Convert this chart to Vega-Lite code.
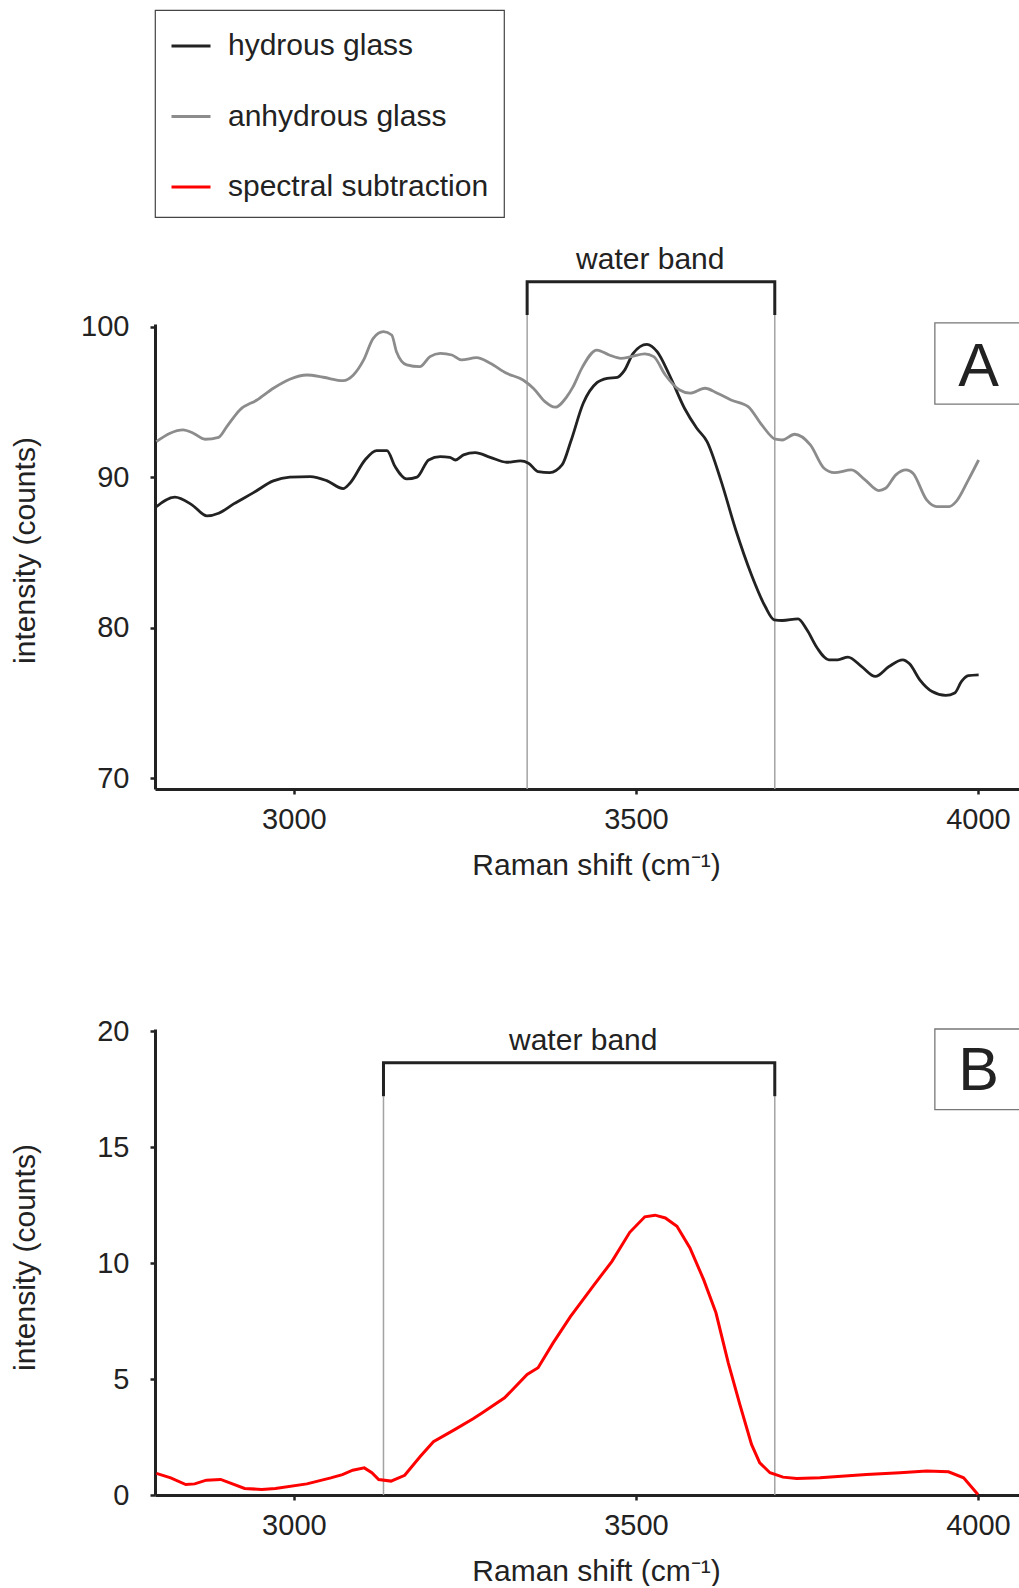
{
  "$schema": "https://vega.github.io/schema/vega-lite/v6.json",
  "background": "white",
  "padding": {"left": 10, "top": 9, "right": 0, "bottom": 0},
  "bounds": "flush",
  "spacing": 240,
  "config": {
    "font": "Liberation Sans",
    "view": {"stroke": null},
    "axis": {
      "domainColor": "#222222", "domainWidth": 3,
      "tickColor": "#222222", "tickWidth": 2.5, "tickSize": 5,
      "labelFont": "Liberation Sans", "labelFontSize": 29, "labelColor": "#222222",
      "titleFont": "Liberation Sans", "titleFontSize": 30, "titleFontWeight": "normal", "titleColor": "#222222",
      "grid": false
    },
    "legend": {
      "orient": "none", "legendX": 0, "legendY": -314,
      "symbolType": "stroke", "symbolSize": 1521, "symbolStrokeWidth": 3,
      "labelFont": "Liberation Sans", "labelFontSize": 30, "labelColor": "#222222",
      "labelOffset": 16, "rowPadding": 34.5, "padding": 15, "labelLimit": 500,
      "strokeColor": "#444444", "strokeWidth": 1.2, "fillColor": "white"
    }
  },
  "datasets": {
    "glass": [
      {"series": "hydrous glass", "shift": 2799, "intensity": 88.04},
      {"series": "hydrous glass", "shift": 2826, "intensity": 88.67},
      {"series": "hydrous glass", "shift": 2851, "intensity": 88.16},
      {"series": "hydrous glass", "shift": 2873, "intensity": 87.42},
      {"series": "hydrous glass", "shift": 2890, "intensity": 87.6},
      {"series": "hydrous glass", "shift": 2912, "intensity": 88.22},
      {"series": "hydrous glass", "shift": 2941, "intensity": 88.97},
      {"series": "hydrous glass", "shift": 2970, "intensity": 89.75},
      {"series": "hydrous glass", "shift": 2994, "intensity": 90.0},
      {"series": "hydrous glass", "shift": 3024, "intensity": 90.04},
      {"series": "hydrous glass", "shift": 3048, "intensity": 89.77},
      {"series": "hydrous glass", "shift": 3072, "intensity": 89.24},
      {"series": "hydrous glass", "shift": 3082, "intensity": 89.6},
      {"series": "hydrous glass", "shift": 3104, "intensity": 91.14},
      {"series": "hydrous glass", "shift": 3121, "intensity": 91.76},
      {"series": "hydrous glass", "shift": 3136, "intensity": 91.76},
      {"series": "hydrous glass", "shift": 3148, "intensity": 90.7},
      {"series": "hydrous glass", "shift": 3165, "intensity": 89.88},
      {"series": "hydrous glass", "shift": 3180, "intensity": 90.0},
      {"series": "hydrous glass", "shift": 3197, "intensity": 91.14},
      {"series": "hydrous glass", "shift": 3214, "intensity": 91.36},
      {"series": "hydrous glass", "shift": 3228, "intensity": 91.32},
      {"series": "hydrous glass", "shift": 3236, "intensity": 91.14},
      {"series": "hydrous glass", "shift": 3248, "intensity": 91.48},
      {"series": "hydrous glass", "shift": 3265, "intensity": 91.63},
      {"series": "hydrous glass", "shift": 3287, "intensity": 91.32},
      {"series": "hydrous glass", "shift": 3311, "intensity": 90.99},
      {"series": "hydrous glass", "shift": 3331, "intensity": 91.08},
      {"series": "hydrous glass", "shift": 3343, "intensity": 90.93},
      {"series": "hydrous glass", "shift": 3357, "intensity": 90.37},
      {"series": "hydrous glass", "shift": 3374, "intensity": 90.3},
      {"series": "hydrous glass", "shift": 3392, "intensity": 90.81},
      {"series": "hydrous glass", "shift": 3405, "intensity": 92.4},
      {"series": "hydrous glass", "shift": 3423, "intensity": 94.91},
      {"series": "hydrous glass", "shift": 3443, "intensity": 96.28},
      {"series": "hydrous glass", "shift": 3458, "intensity": 96.57},
      {"series": "hydrous glass", "shift": 3473, "intensity": 96.64},
      {"series": "hydrous glass", "shift": 3483, "intensity": 97.08},
      {"series": "hydrous glass", "shift": 3496, "intensity": 98.23},
      {"series": "hydrous glass", "shift": 3516, "intensity": 98.83},
      {"series": "hydrous glass", "shift": 3531, "intensity": 98.34},
      {"series": "hydrous glass", "shift": 3549, "intensity": 96.79},
      {"series": "hydrous glass", "shift": 3571, "intensity": 94.58},
      {"series": "hydrous glass", "shift": 3589, "intensity": 93.25},
      {"series": "hydrous glass", "shift": 3604, "intensity": 92.36},
      {"series": "hydrous glass", "shift": 3624, "intensity": 89.82},
      {"series": "hydrous glass", "shift": 3646, "intensity": 86.49},
      {"series": "hydrous glass", "shift": 3669, "intensity": 83.5},
      {"series": "hydrous glass", "shift": 3689, "intensity": 81.4},
      {"series": "hydrous glass", "shift": 3702, "intensity": 80.52},
      {"series": "hydrous glass", "shift": 3714, "intensity": 80.47},
      {"series": "hydrous glass", "shift": 3737, "intensity": 80.58},
      {"series": "hydrous glass", "shift": 3750, "intensity": 79.85},
      {"series": "hydrous glass", "shift": 3765, "intensity": 78.64},
      {"series": "hydrous glass", "shift": 3782, "intensity": 77.86},
      {"series": "hydrous glass", "shift": 3795, "intensity": 77.86},
      {"series": "hydrous glass", "shift": 3810, "intensity": 78.04},
      {"series": "hydrous glass", "shift": 3830, "intensity": 77.41},
      {"series": "hydrous glass", "shift": 3850, "intensity": 76.75},
      {"series": "hydrous glass", "shift": 3870, "intensity": 77.41},
      {"series": "hydrous glass", "shift": 3890, "intensity": 77.86},
      {"series": "hydrous glass", "shift": 3900, "intensity": 77.59},
      {"series": "hydrous glass", "shift": 3915, "intensity": 76.53},
      {"series": "hydrous glass", "shift": 3933, "intensity": 75.75},
      {"series": "hydrous glass", "shift": 3953, "intensity": 75.49},
      {"series": "hydrous glass", "shift": 3966, "intensity": 75.65},
      {"series": "hydrous glass", "shift": 3976, "intensity": 76.42},
      {"series": "hydrous glass", "shift": 3986, "intensity": 76.8},
      {"series": "hydrous glass", "shift": 4001, "intensity": 76.86},
      {"series": "anhydrous glass", "shift": 2799, "intensity": 92.36},
      {"series": "anhydrous glass", "shift": 2819, "intensity": 92.92},
      {"series": "anhydrous glass", "shift": 2838, "intensity": 93.14},
      {"series": "anhydrous glass", "shift": 2853, "intensity": 92.92},
      {"series": "anhydrous glass", "shift": 2870, "intensity": 92.52},
      {"series": "anhydrous glass", "shift": 2890, "intensity": 92.65},
      {"series": "anhydrous glass", "shift": 2902, "intensity": 93.36},
      {"series": "anhydrous glass", "shift": 2921, "intensity": 94.47},
      {"series": "anhydrous glass", "shift": 2946, "intensity": 95.13},
      {"series": "anhydrous glass", "shift": 2970, "intensity": 95.91},
      {"series": "anhydrous glass", "shift": 2994, "intensity": 96.51},
      {"series": "anhydrous glass", "shift": 3019, "intensity": 96.79},
      {"series": "anhydrous glass", "shift": 3043, "intensity": 96.64},
      {"series": "anhydrous glass", "shift": 3072, "intensity": 96.41},
      {"series": "anhydrous glass", "shift": 3087, "intensity": 96.79},
      {"series": "anhydrous glass", "shift": 3102, "intensity": 97.79},
      {"series": "anhydrous glass", "shift": 3116, "intensity": 99.23},
      {"series": "anhydrous glass", "shift": 3131, "intensity": 99.67},
      {"series": "anhydrous glass", "shift": 3143, "intensity": 99.45},
      {"series": "anhydrous glass", "shift": 3150, "intensity": 98.34},
      {"series": "anhydrous glass", "shift": 3165, "intensity": 97.46},
      {"series": "anhydrous glass", "shift": 3184, "intensity": 97.34},
      {"series": "anhydrous glass", "shift": 3199, "intensity": 98.01},
      {"series": "anhydrous glass", "shift": 3214, "intensity": 98.23},
      {"series": "anhydrous glass", "shift": 3231, "intensity": 98.12},
      {"series": "anhydrous glass", "shift": 3245, "intensity": 97.79},
      {"series": "anhydrous glass", "shift": 3267, "intensity": 97.94},
      {"series": "anhydrous glass", "shift": 3287, "intensity": 97.57},
      {"series": "anhydrous glass", "shift": 3311, "intensity": 96.9},
      {"series": "anhydrous glass", "shift": 3335, "intensity": 96.46},
      {"series": "anhydrous glass", "shift": 3350, "intensity": 95.91},
      {"series": "anhydrous glass", "shift": 3367, "intensity": 95.02},
      {"series": "anhydrous glass", "shift": 3382, "intensity": 94.65},
      {"series": "anhydrous glass", "shift": 3399, "intensity": 95.35},
      {"series": "anhydrous glass", "shift": 3408, "intensity": 96.0},
      {"series": "anhydrous glass", "shift": 3421, "intensity": 97.25},
      {"series": "anhydrous glass", "shift": 3443, "intensity": 98.45},
      {"series": "anhydrous glass", "shift": 3461, "intensity": 98.12},
      {"series": "anhydrous glass", "shift": 3478, "intensity": 97.9},
      {"series": "anhydrous glass", "shift": 3493, "intensity": 98.01},
      {"series": "anhydrous glass", "shift": 3513, "intensity": 98.19},
      {"series": "anhydrous glass", "shift": 3526, "intensity": 98.01},
      {"series": "anhydrous glass", "shift": 3543, "intensity": 96.79},
      {"series": "anhydrous glass", "shift": 3564, "intensity": 95.79},
      {"series": "anhydrous glass", "shift": 3579, "intensity": 95.58},
      {"series": "anhydrous glass", "shift": 3601, "intensity": 95.91},
      {"series": "anhydrous glass", "shift": 3619, "intensity": 95.58},
      {"series": "anhydrous glass", "shift": 3639, "intensity": 95.13},
      {"series": "anhydrous glass", "shift": 3664, "intensity": 94.69},
      {"series": "anhydrous glass", "shift": 3684, "intensity": 93.47},
      {"series": "anhydrous glass", "shift": 3704, "intensity": 92.52},
      {"series": "anhydrous glass", "shift": 3714, "intensity": 92.47},
      {"series": "anhydrous glass", "shift": 3732, "intensity": 92.85},
      {"series": "anhydrous glass", "shift": 3755, "intensity": 92.14},
      {"series": "anhydrous glass", "shift": 3775, "intensity": 90.59},
      {"series": "anhydrous glass", "shift": 3790, "intensity": 90.3},
      {"series": "anhydrous glass", "shift": 3815, "intensity": 90.48},
      {"series": "anhydrous glass", "shift": 3835, "intensity": 89.82},
      {"series": "anhydrous glass", "shift": 3855, "intensity": 89.11},
      {"series": "anhydrous glass", "shift": 3865, "intensity": 89.26},
      {"series": "anhydrous glass", "shift": 3880, "intensity": 90.15},
      {"series": "anhydrous glass", "shift": 3895, "intensity": 90.48},
      {"series": "anhydrous glass", "shift": 3905, "intensity": 90.26},
      {"series": "anhydrous glass", "shift": 3925, "intensity": 88.49},
      {"series": "anhydrous glass", "shift": 3940, "intensity": 88.04},
      {"series": "anhydrous glass", "shift": 3958, "intensity": 88.04},
      {"series": "anhydrous glass", "shift": 3968, "intensity": 88.37},
      {"series": "anhydrous glass", "shift": 3986, "intensity": 89.82},
      {"series": "anhydrous glass", "shift": 4001, "intensity": 91.14}
    ],
    "subtraction": [
      {"series": "spectral subtraction", "shift": 2799, "intensity": 0.93},
      {"series": "spectral subtraction", "shift": 2820, "intensity": 0.74},
      {"series": "spectral subtraction", "shift": 2842, "intensity": 0.45},
      {"series": "spectral subtraction", "shift": 2855, "intensity": 0.48},
      {"series": "spectral subtraction", "shift": 2872, "intensity": 0.64},
      {"series": "spectral subtraction", "shift": 2893, "intensity": 0.67},
      {"series": "spectral subtraction", "shift": 2928, "intensity": 0.28},
      {"series": "spectral subtraction", "shift": 2953, "intensity": 0.24},
      {"series": "spectral subtraction", "shift": 2973, "intensity": 0.28},
      {"series": "spectral subtraction", "shift": 3019, "intensity": 0.48},
      {"series": "spectral subtraction", "shift": 3054, "intensity": 0.74},
      {"series": "spectral subtraction", "shift": 3071, "intensity": 0.88},
      {"series": "spectral subtraction", "shift": 3086, "intensity": 1.07},
      {"series": "spectral subtraction", "shift": 3103, "intensity": 1.17},
      {"series": "spectral subtraction", "shift": 3114, "intensity": 0.96},
      {"series": "spectral subtraction", "shift": 3124, "intensity": 0.67},
      {"series": "spectral subtraction", "shift": 3142, "intensity": 0.6},
      {"series": "spectral subtraction", "shift": 3162, "intensity": 0.85},
      {"series": "spectral subtraction", "shift": 3185, "intensity": 1.67},
      {"series": "spectral subtraction", "shift": 3204, "intensity": 2.3},
      {"series": "spectral subtraction", "shift": 3235, "intensity": 2.82},
      {"series": "spectral subtraction", "shift": 3262, "intensity": 3.29},
      {"series": "spectral subtraction", "shift": 3275, "intensity": 3.54},
      {"series": "spectral subtraction", "shift": 3308, "intensity": 4.19},
      {"series": "spectral subtraction", "shift": 3341, "intensity": 5.2},
      {"series": "spectral subtraction", "shift": 3357, "intensity": 5.49},
      {"series": "spectral subtraction", "shift": 3379, "intensity": 6.56},
      {"series": "spectral subtraction", "shift": 3404, "intensity": 7.68},
      {"series": "spectral subtraction", "shift": 3438, "intensity": 9.03},
      {"series": "spectral subtraction", "shift": 3465, "intensity": 10.08},
      {"series": "spectral subtraction", "shift": 3491, "intensity": 11.33},
      {"series": "spectral subtraction", "shift": 3513, "intensity": 12.0},
      {"series": "spectral subtraction", "shift": 3528, "intensity": 12.07},
      {"series": "spectral subtraction", "shift": 3543, "intensity": 11.95},
      {"series": "spectral subtraction", "shift": 3560, "intensity": 11.59},
      {"series": "spectral subtraction", "shift": 3579, "intensity": 10.66},
      {"series": "spectral subtraction", "shift": 3599, "intensity": 9.29},
      {"series": "spectral subtraction", "shift": 3617, "intensity": 7.86},
      {"series": "spectral subtraction", "shift": 3635, "intensity": 5.7},
      {"series": "spectral subtraction", "shift": 3652, "intensity": 3.9},
      {"series": "spectral subtraction", "shift": 3669, "intensity": 2.18},
      {"series": "spectral subtraction", "shift": 3681, "intensity": 1.39},
      {"series": "spectral subtraction", "shift": 3696, "intensity": 0.96},
      {"series": "spectral subtraction", "shift": 3715, "intensity": 0.77},
      {"series": "spectral subtraction", "shift": 3735, "intensity": 0.71},
      {"series": "spectral subtraction", "shift": 3769, "intensity": 0.74},
      {"series": "spectral subtraction", "shift": 3837, "intensity": 0.88},
      {"series": "spectral subtraction", "shift": 3886, "intensity": 0.96},
      {"series": "spectral subtraction", "shift": 3925, "intensity": 1.03},
      {"series": "spectral subtraction", "shift": 3957, "intensity": 1.0},
      {"series": "spectral subtraction", "shift": 3979, "intensity": 0.74},
      {"series": "spectral subtraction", "shift": 4000, "intensity": 0.02}
    ]
  },
  "vconcat": [
    {
      "width": 864,
      "height": 465,
      "encoding": {
        "x": {
          "field": "shift", "type": "quantitative",
          "scale": {"domain": [2797, 4060], "nice": false, "zero": false},
          "axis": {"values": [3000, 3500, 4000], "format": "d", "title": "Raman shift (cm⁻¹)", "labelPadding": 11,
                   "titleX": 441, "titleY": 85, "titleBaseline": "alphabetic", "titleAlign": "center"}
        },
        "y": {
          "field": "intensity", "type": "quantitative",
          "scale": {"domain": [69.27, 100.18], "nice": false, "zero": false},
          "axis": {"values": [70, 80, 90, 100], "format": "d", "title": "intensity (counts)", "labelPadding": 21,
                   "titleX": -120.6, "titleY": 226, "titleBaseline": "alphabetic", "titleAlign": "center", "titleAngle": 270}
        }
      },
      "layer": [
        {
          "data": {"values": [
            {"shift": 3341, "intensity": 69.27, "high": 100.78},
            {"shift": 3703, "intensity": 69.27, "high": 100.78}
          ]},
          "mark": {"type": "rule", "color": "#a3a3a3", "strokeWidth": 1.5},
          "encoding": {"y2": {"field": "high"}}
        },
        {
          "data": {"name": "glass"},
          "mark": {"type": "line", "strokeWidth": 2.8, "interpolate": "monotone"},
          "encoding": {
            "color": {
              "field": "series", "type": "nominal",
              "scale": {"domain": ["hydrous glass", "anhydrous glass", "spectral subtraction"], "range": ["#222222", "#8c8c8c", "#ff0000"]},
              "legend": {"title": null}
            }
          }
        },
        {
          "data": {"values": [
            {"seq": 1, "shift": 3341, "intensity": 100.78},
            {"seq": 2, "shift": 3341, "intensity": 102.99},
            {"seq": 3, "shift": 3703, "intensity": 102.99},
            {"seq": 4, "shift": 3703, "intensity": 100.78}
          ]},
          "mark": {"type": "line", "color": "#222222", "strokeWidth": 3, "strokeJoin": "miter"},
          "encoding": {"order": {"field": "seq", "type": "quantitative"}}
        },
        {
          "data": {"values": [
            {"seq": 1, "shift": 4060, "intensity": 100.25},
            {"seq": 2, "shift": 3937, "intensity": 100.25},
            {"seq": 3, "shift": 3937, "intensity": 94.86},
            {"seq": 4, "shift": 4060, "intensity": 94.86}
          ]},
          "mark": {"type": "line", "color": "#777777", "strokeWidth": 1.3, "strokeJoin": "miter"},
          "encoding": {"order": {"field": "seq", "type": "quantitative"}}
        },
        {
          "data": {"values": [{"shift": 3521, "intensity": 103.81, "label": "water band"}]},
          "mark": {"type": "text", "fontSize": 30, "color": "#222222", "align": "center", "baseline": "alphabetic"},
          "encoding": {"text": {"field": "label"}}
        },
        {
          "data": {"values": [{"shift": 4001, "intensity": 96.06, "label": "A"}]},
          "mark": {"type": "text", "fontSize": 61, "color": "#222222", "align": "center", "baseline": "alphabetic"},
          "encoding": {"text": {"field": "label"}}
        }
      ]
    },
    {
      "width": 864,
      "height": 466,
      "encoding": {
        "x": {
          "field": "shift", "type": "quantitative",
          "scale": {"domain": [2797, 4060], "nice": false, "zero": false},
          "axis": {"values": [3000, 3500, 4000], "format": "d", "title": "Raman shift (cm⁻¹)", "labelPadding": 11,
                   "titleX": 441, "titleY": 85, "titleBaseline": "alphabetic", "titleAlign": "center"}
        },
        "y": {
          "field": "intensity", "type": "quantitative",
          "scale": {"domain": [0, 20.1], "nice": false, "zero": false},
          "axis": {"values": [0, 5, 10, 15, 20], "format": "d", "title": "intensity (counts)", "labelPadding": 21,
                   "titleX": -120.6, "titleY": 228, "titleBaseline": "alphabetic", "titleAlign": "center", "titleAngle": 270}
        }
      },
      "layer": [
        {
          "data": {"values": [
            {"shift": 3131, "intensity": 0, "high": 17.2},
            {"shift": 3703, "intensity": 0, "high": 17.2}
          ]},
          "mark": {"type": "rule", "color": "#a3a3a3", "strokeWidth": 1.5},
          "encoding": {"y2": {"field": "high"}}
        },
        {
          "data": {"name": "subtraction"},
          "mark": {"type": "line", "strokeWidth": 3, "interpolate": "linear"},
          "encoding": {
            "color": {
              "field": "series", "type": "nominal",
              "scale": {"domain": ["hydrous glass", "anhydrous glass", "spectral subtraction"], "range": ["#222222", "#8c8c8c", "#ff0000"]},
              "legend": {"title": null}
            }
          }
        },
        {
          "data": {"values": [
            {"seq": 1, "shift": 3131, "intensity": 17.2},
            {"seq": 2, "shift": 3131, "intensity": 18.64},
            {"seq": 3, "shift": 3703, "intensity": 18.64},
            {"seq": 4, "shift": 3703, "intensity": 17.2}
          ]},
          "mark": {"type": "line", "color": "#222222", "strokeWidth": 3, "strokeJoin": "miter"},
          "encoding": {"order": {"field": "seq", "type": "quantitative"}}
        },
        {
          "data": {"values": [
            {"seq": 1, "shift": 4060, "intensity": 20.1},
            {"seq": 2, "shift": 3937, "intensity": 20.1},
            {"seq": 3, "shift": 3937, "intensity": 16.62},
            {"seq": 4, "shift": 4060, "intensity": 16.62}
          ]},
          "mark": {"type": "line", "color": "#777777", "strokeWidth": 1.3, "strokeJoin": "miter"},
          "encoding": {"order": {"field": "seq", "type": "quantitative"}}
        },
        {
          "data": {"values": [{"shift": 3423, "intensity": 19.18, "label": "water band"}]},
          "mark": {"type": "text", "fontSize": 30, "color": "#222222", "align": "center", "baseline": "alphabetic"},
          "encoding": {"text": {"field": "label"}}
        },
        {
          "data": {"values": [{"shift": 4001, "intensity": 17.46, "label": "B"}]},
          "mark": {"type": "text", "fontSize": 61, "color": "#222222", "align": "center", "baseline": "alphabetic"},
          "encoding": {"text": {"field": "label"}}
        }
      ]
    }
  ],
  "resolve": {"scale": {"color": "shared"}}
}
